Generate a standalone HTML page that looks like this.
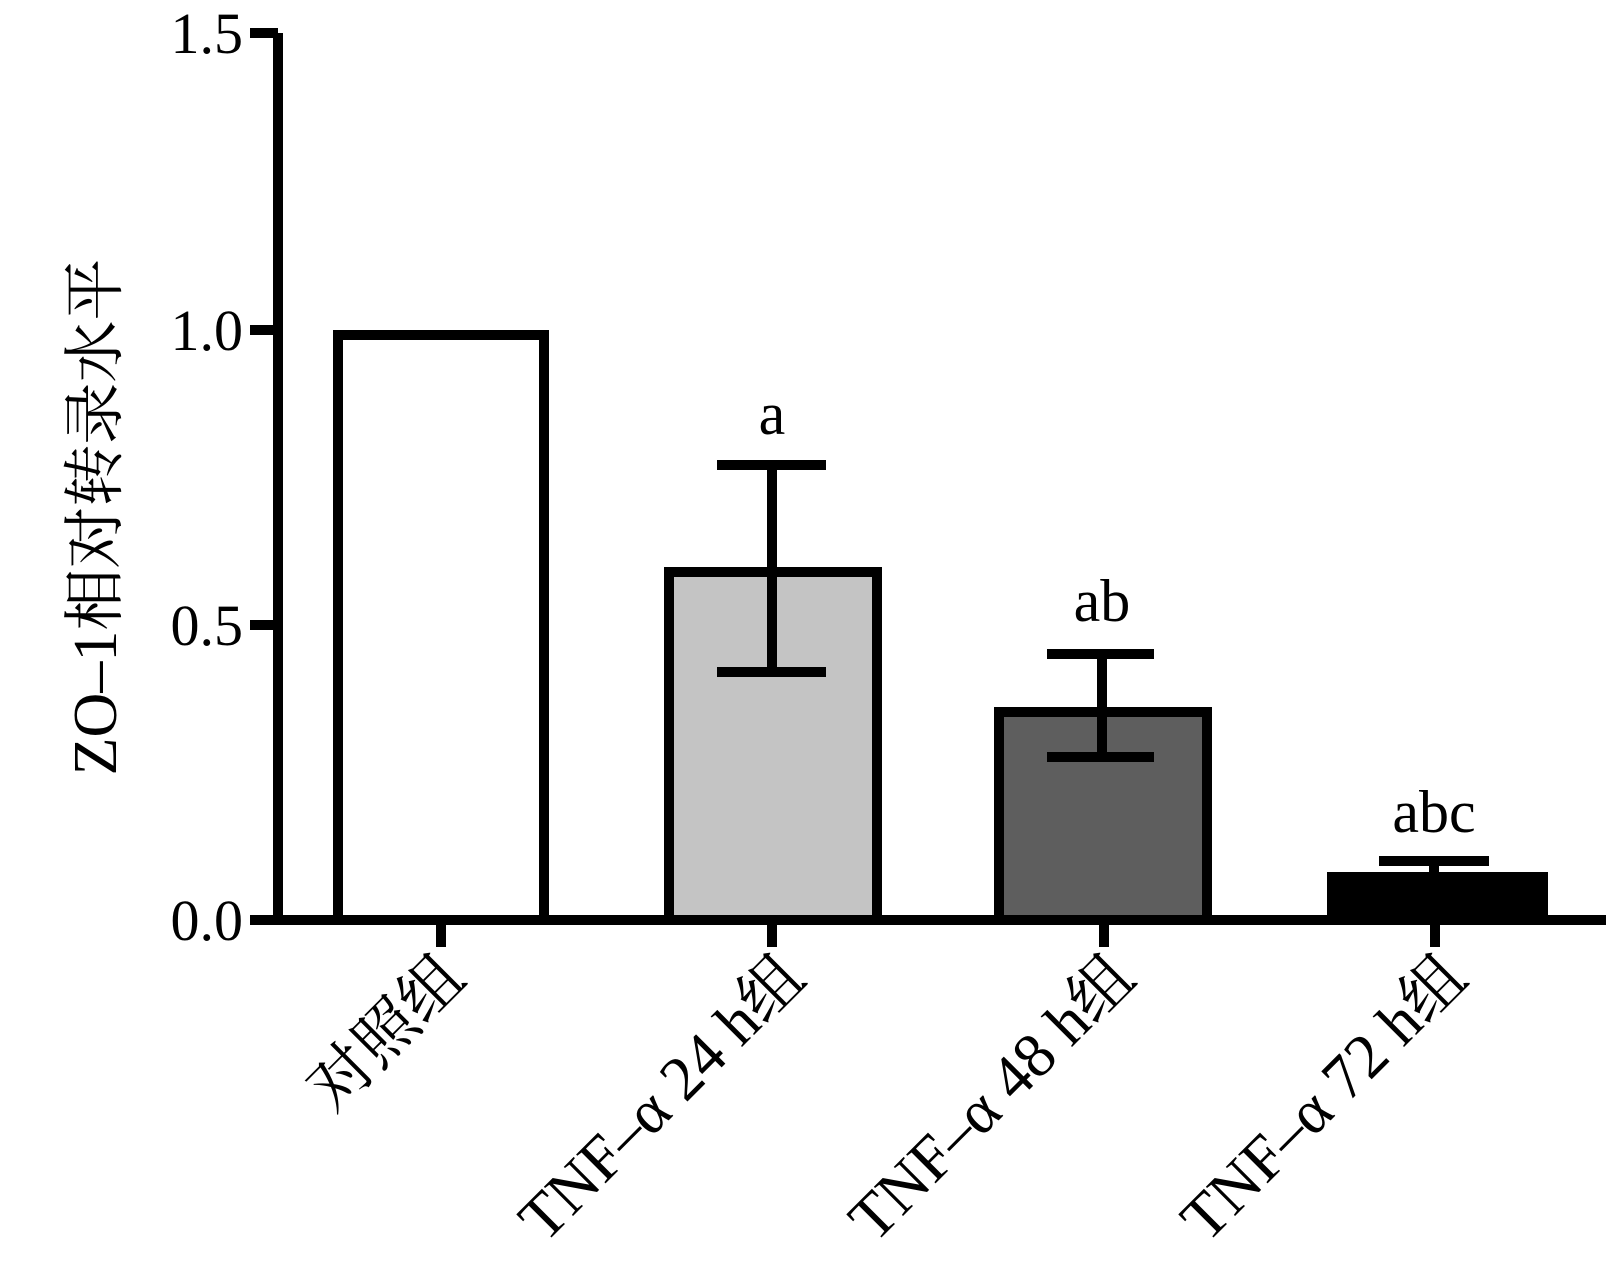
<!DOCTYPE html>
<html><head><meta charset="utf-8"><style>body{margin:0;background:#fff}svg{display:block}</style></head><body>
<svg width="1622" height="1266" viewBox="0 0 1622 1266" xmlns="http://www.w3.org/2000/svg" font-family="'Liberation Serif','Noto Serif CJK SC',serif">
<rect width="1622" height="1266" fill="#fff"/>
<g transform="translate(0,-3)">
<g stroke="#000" stroke-width="10" fill="none">
<rect x="338" y="338" width="206" height="585" fill="#fff"/>
<rect x="669" y="575" width="208" height="348" fill="#c4c4c4"/>
<rect x="999" y="715" width="208" height="208" fill="#5e5e5e"/>
<rect x="1332" y="880" width="211" height="43" fill="#000"/>
<line x1="772" y1="468" x2="772" y2="675"/><line x1="717" y1="468" x2="826" y2="468"/><line x1="717" y1="675" x2="826" y2="675"/>
<line x1="1102" y1="657" x2="1102" y2="760"/><line x1="1047" y1="657" x2="1154" y2="657"/><line x1="1047" y1="760" x2="1154" y2="760"/>
<line x1="1434" y1="864" x2="1434" y2="880"/><line x1="1379" y1="864" x2="1489" y2="864"/>
<line x1="278" y1="36" x2="278" y2="928"/>
<line x1="273" y1="923" x2="1606" y2="923"/>
<line x1="250" y1="36" x2="278" y2="36"/><line x1="250" y1="333" x2="278" y2="333"/><line x1="250" y1="628" x2="278" y2="628"/><line x1="250" y1="923" x2="278" y2="923"/>
<line x1="441" y1="923" x2="441" y2="950"/><line x1="772" y1="923" x2="772" y2="950"/><line x1="1104" y1="923" x2="1104" y2="950"/><line x1="1435" y1="923" x2="1435" y2="950"/>
</g>
<g font-size="58" text-anchor="end" fill="#000">
<text x="243" y="56">1.5</text><text x="243" y="353">1.0</text><text x="243" y="648">0.5</text><text x="243" y="943">0.0</text>
</g>
<g font-size="60" text-anchor="middle" fill="#000">
<text x="772" y="437">a</text><text x="1102" y="624">ab</text><text x="1434" y="835">abc</text>
</g>
<text transform="translate(116,520) rotate(-90)" font-size="62" text-anchor="middle" fill="#000">ZO–1相对转录水平</text>
<g font-size="63" text-anchor="end" fill="#000">
<text transform="translate(468,984) rotate(-45)">对照组</text>
<text transform="translate(808,984) rotate(-45)">TNF–α 24 h组</text>
<text transform="translate(1138,984) rotate(-45)">TNF–α 48 h组</text>
<text transform="translate(1470,984) rotate(-45)">TNF–α 72 h组</text>
</g>
</g>
</svg>
</body></html>
